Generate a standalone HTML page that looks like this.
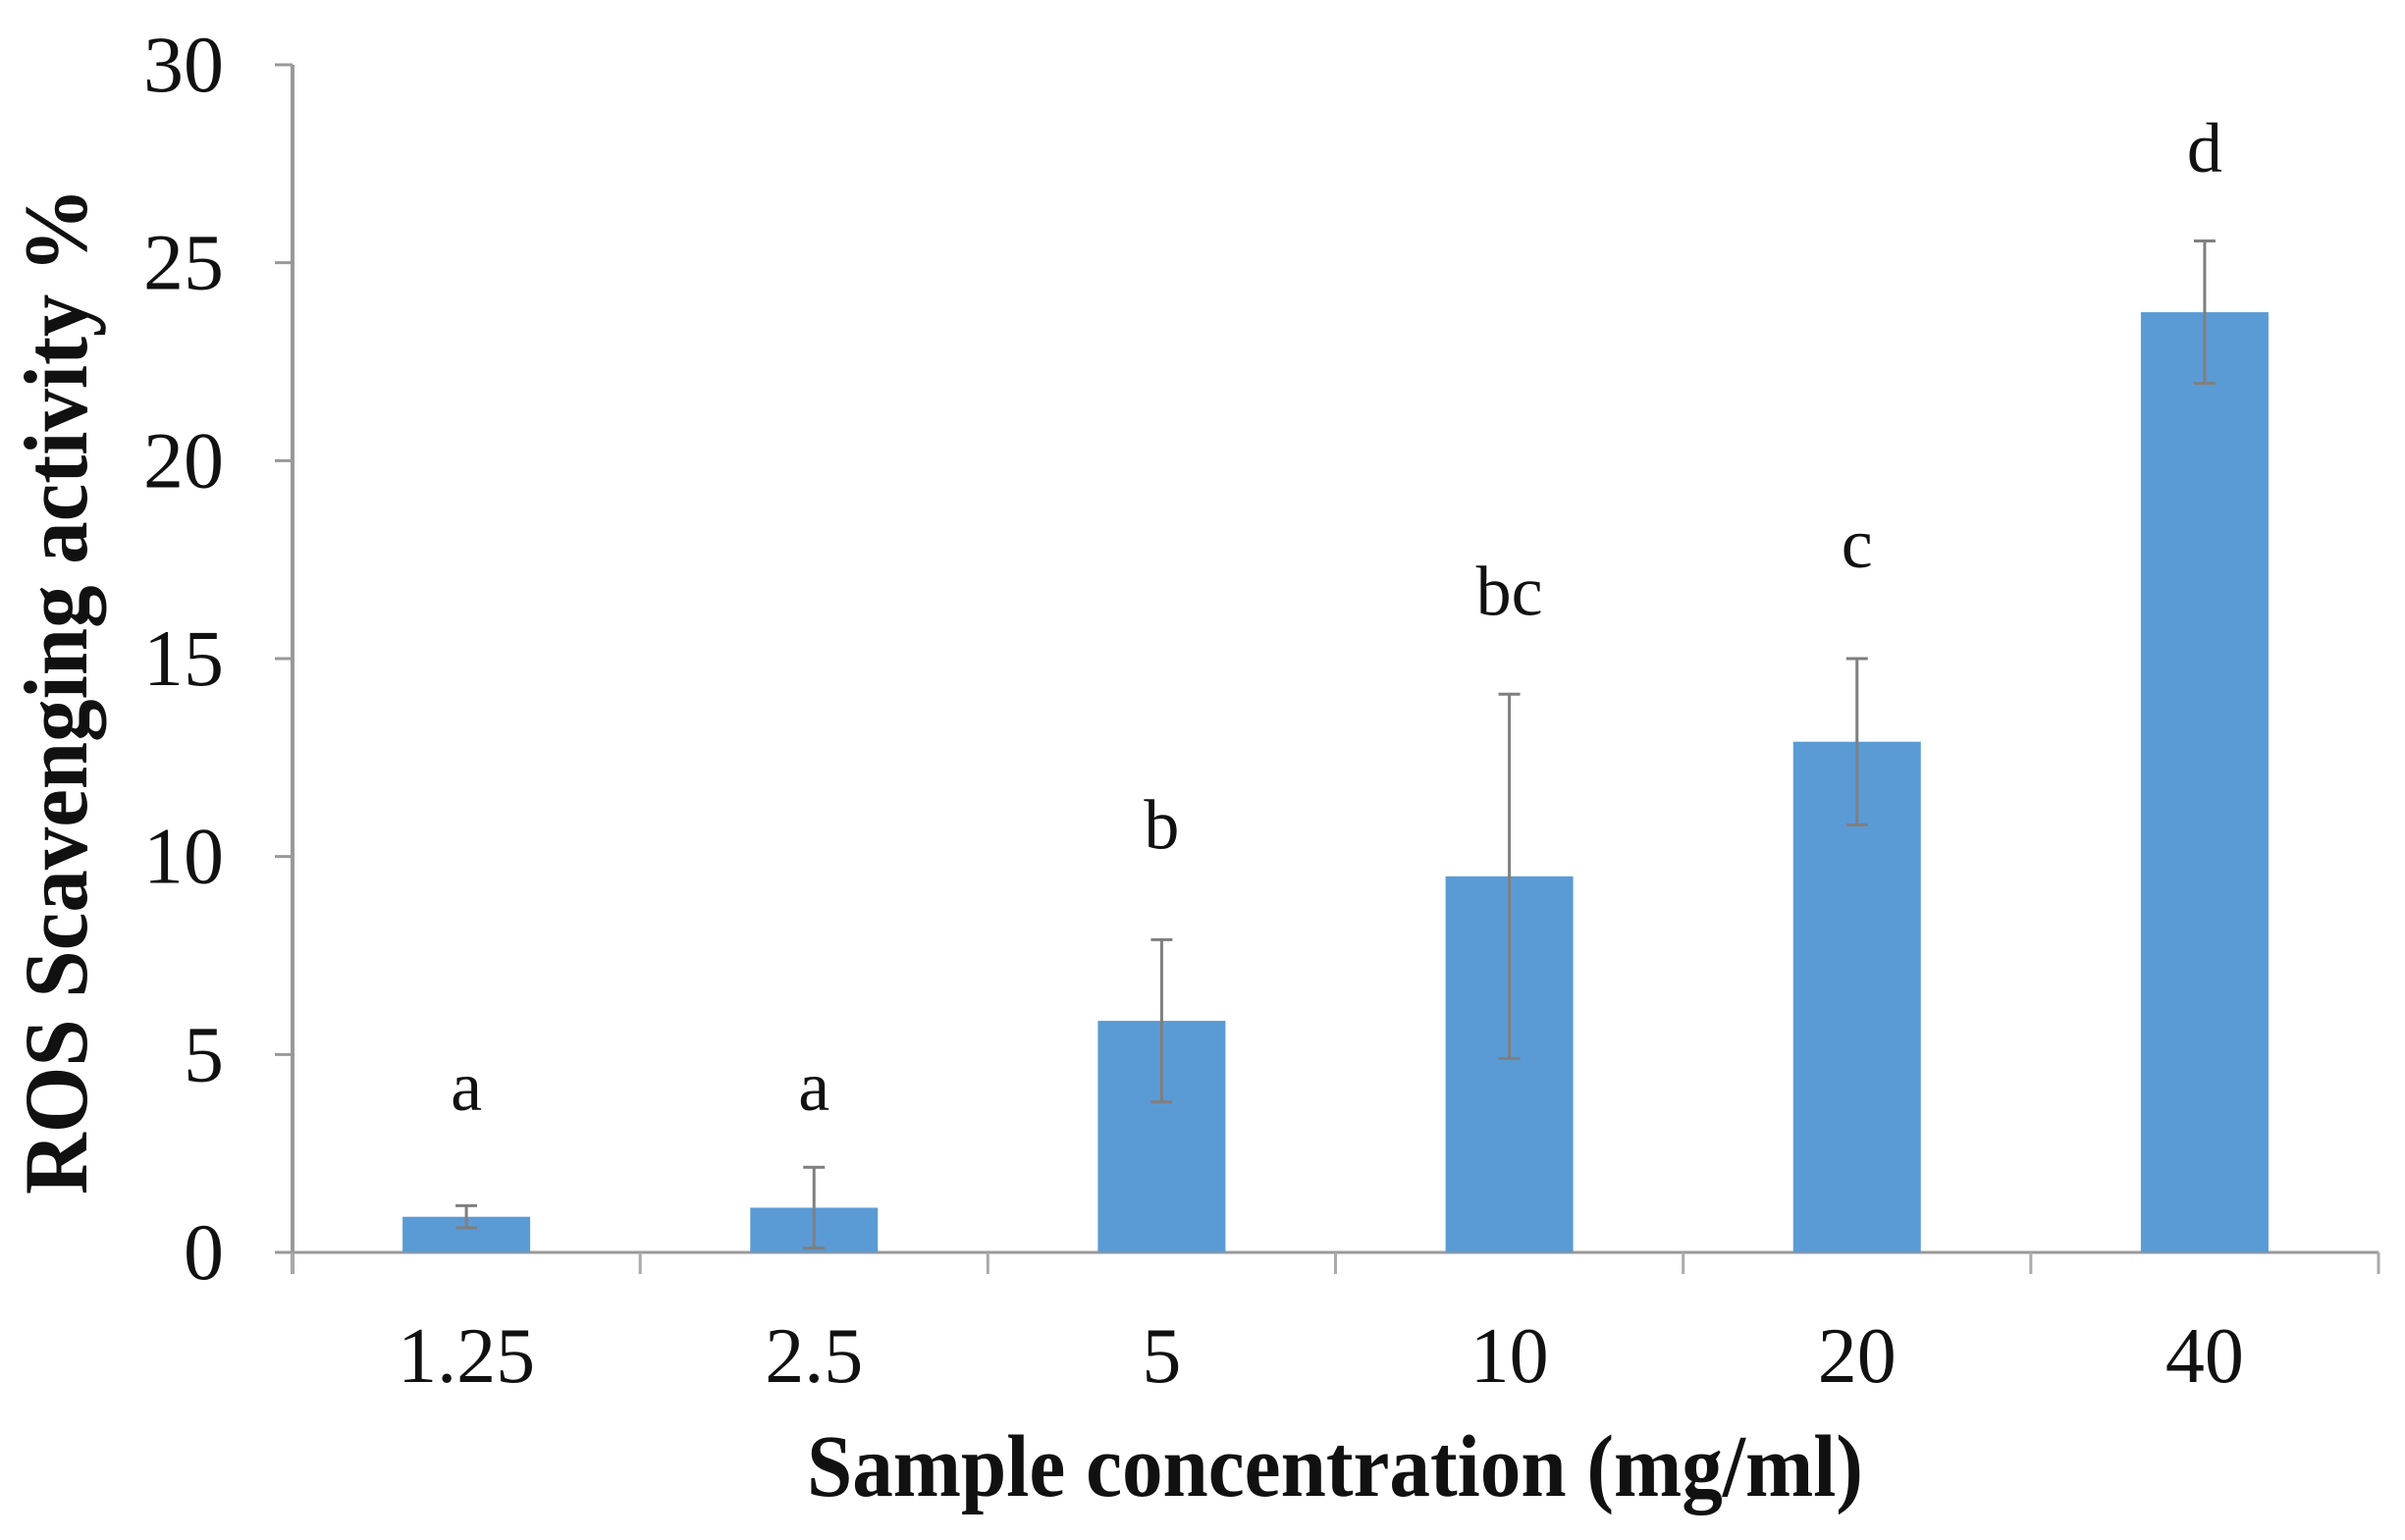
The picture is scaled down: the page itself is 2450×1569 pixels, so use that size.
<!DOCTYPE html>
<html><head><meta charset="utf-8"><style>
html,body{margin:0;padding:0;background:#fff;}
svg{display:block;}
text{font-family:"Liberation Serif",serif;fill:#111;}
</style></head><body>
<svg id="chart" width="2450" height="1569" viewBox="0 0 2450 1569" xmlns="http://www.w3.org/2000/svg">
<g id="axes"></g>
<g id="bars"></g>
<g id="labels"></g>
<text transform="translate(88,704) rotate(-90)" text-anchor="middle" font-size="92" font-weight="bold" textLength="1026" lengthAdjust="spacingAndGlyphs">ROS Scavenging activity %</text>
<text x="1360" y="1524" text-anchor="middle" font-size="90" font-weight="bold" textLength="1076" lengthAdjust="spacingAndGlyphs">Sample concentration (mg/ml)</text>
</svg>
<script>
const categories = ["1.25","2.5","5","10","20","40"];
const values = [0.9, 1.13, 5.85, 9.5, 12.9, 23.75];
const errors = [0.28, 1.02, 2.05, 4.6, 2.1, 1.8];
const sigLetters = ["a","a","b","bc","c","d"];
const letterY = [3.6, 3.6, 10.2, 16.1, 17.3, 27.3];
const yTicks = [0,5,10,15,20,25,30];

const NS="http://www.w3.org/2000/svg";
const X0=298, X1=2423, Y0=1276, Y1=66, YMAX=30;
const band=(X1-X0)/categories.length;
const barW=130;
function yScale(v){return Y0-(v/YMAX)*(Y0-Y1);}
function xCenter(i){return X0+band*(i+0.5);}
function mk(tag,attrs,parent){const e=document.createElementNS(NS,tag);for(const k in attrs)e.setAttribute(k,attrs[k]);parent.appendChild(e);return e;}
const axes=document.getElementById('axes'), bars=document.getElementById('bars'), labels=document.getElementById('labels');

let el=mk('line',{x1:X0,y1:Y1,x2:X0,y2:Y0+22,stroke:'#999','stroke-width':4},axes);


el=mk('line',{x1:X0-18,y1:Y0,x2:X1,y2:Y0,stroke:'#999','stroke-width':3},axes);



yTicks.forEach(t=>{
  const y=yScale(t);
  const tk=mk('line',{x1:X0-18,y1:y,x2:X0,y2:y,stroke:'#999','stroke-width':3},axes);
  
  
  const tl=mk('text',{x:228,y:y+27,'text-anchor':'end','font-size':82},axes);
  tl.textContent=t;
  
  
});
for(let i=0;i<=categories.length;i++){
  const x=X0+band*i;
  const tk=mk('line',{x1:x,y1:Y0,x2:x,y2:Y0+22,stroke:'#aaa','stroke-width':3},axes);
  
  
}
categories.forEach((c,i)=>{
  const cx=xCenter(i);
  const b=mk('rect',{x:cx-barW/2,y:yScale(values[i]),width:barW,height:Y0-yScale(values[i]),fill:'#5b9bd5'},bars);
  
  
  const yt=yScale(values[i]+errors[i]), yb=yScale(Math.max(0,values[i]-errors[i]));
  const g=mk('g',{stroke:'#7f7f7f','stroke-width':3},bars);
  
  
  mk('line',{x1:cx,y1:yt,x2:cx,y2:yb},g);
  mk('line',{x1:cx-11,y1:yt,x2:cx+11,y2:yt},g);
  mk('line',{x1:cx-11,y1:yb,x2:cx+11,y2:yb},g);
  const xl=mk('text',{x:cx,y:1408,'text-anchor':'middle','font-size':80},labels);
  xl.textContent=c;
  
  
  const sl=mk('text',{x:cx,y:yScale(letterY[i]),'text-anchor':'middle','font-size':72},labels);
  sl.textContent=sigLetters[i];
  
  
});
</script>
</body></html>
